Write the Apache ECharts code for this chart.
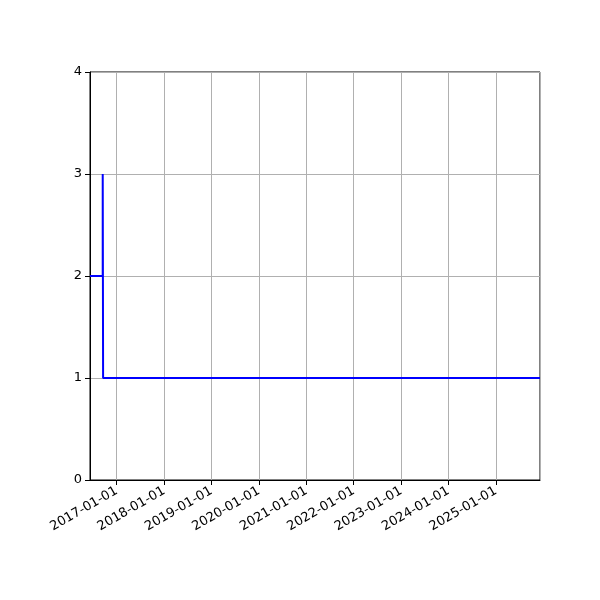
<!DOCTYPE html>
<html><head><meta charset="utf-8">
<script src="https://cdn.jsdelivr.net/npm/echarts@6/dist/echarts.min.js"></script>
<style>html,body{margin:0;padding:0;background:#fff}#c{width:600px;height:600px}</style>
</head><body><div id="c"></div>
<script>
const dates = ['2016-06-09', '2016-09-15', '2016-09-18', '2025-12-06'];
const values = [2, 3, 1, 1];
const xMin = '2016-06-09';
const xMax = '2025-12-06';
const yTicks = [0, 1, 2, 3, 4];

const chart = echarts.init(document.getElementById('c'), null, {renderer: 'canvas'});
const font = 'DejaVu Sans';
const DAY = 24 * 3600 * 1000;
chart.setOption({
  animation: false,
  backgroundColor: '#fff',
  grid: {left: 90, right: 60, top: 72, bottom: 120, show: true, borderColor: '#000', borderWidth: 1, containLabel: false},
  xAxis: {
    type: 'time',
    min: new Date(xMin + 'T00:00:00Z').getTime(),
    max: new Date(xMax + 'T00:00:00Z').getTime(),
    minInterval: 365 * DAY,
    maxInterval: 366 * DAY,
    axisLine: {show: true, lineStyle: {color: '#000', width: 1}},
    axisTick: {show: true, inside: false, length: 5, lineStyle: {color: '#000', width: 1}},
    splitLine: {show: true, lineStyle: {color: '#b0b0b0', width: 1}},
    axisLabel: {
      rotate: 30, fontFamily: font, fontSize: 13, color: '#000', margin: 10,
      showMinLabel: false, showMaxLabel: false,
      formatter: function (v) { return echarts.time.format(v, '{yyyy}-{MM}-{dd}', true); }
    }
  },
  yAxis: {
    type: 'value', min: yTicks[0], max: yTicks[yTicks.length - 1], interval: 1,
    axisLine: {show: true, lineStyle: {color: '#000', width: 1}},
    axisTick: {show: true, inside: false, length: 5, lineStyle: {color: '#000', width: 1}},
    splitLine: {show: true, lineStyle: {color: '#b0b0b0', width: 1}},
    axisLabel: {fontFamily: font, fontSize: 13, color: '#000', margin: 8}
  },
  series: [{
    type: 'line', step: 'end', showSymbol: false, symbol: 'none',
    lineStyle: {color: '#0000ff', width: 2},
    data: dates.map((d, i) => [new Date(d + 'T00:00:00Z').getTime(), values[i]])
  }]
});
</script></body></html>
